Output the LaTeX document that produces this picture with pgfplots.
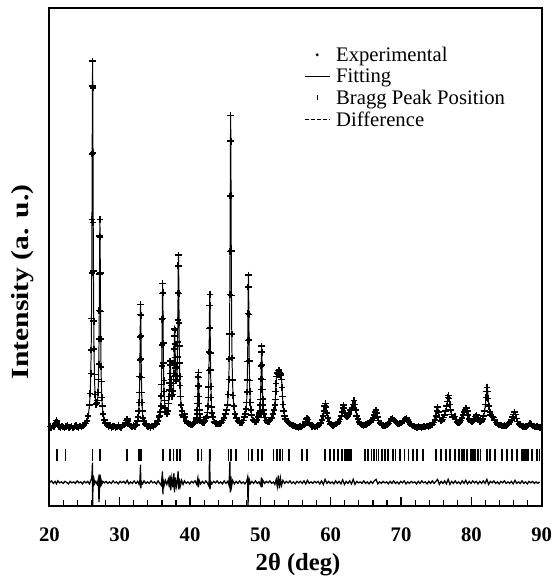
\documentclass[border=0pt]{standalone}
\usepackage{fontspec}
\setmainfont{Liberation Serif}
\usepackage{pgfplots}
\usepackage{pgfplotstable}
\pgfplotsset{compat=1.18}

% observed pattern (y in picture units, background ~80)
\pgfplotstableread[row sep=\\]{
x y\\
20.05 80.5\\ 20.25 79\\ 20.45 81\\ 20.65 80.5\\ 20.80 82.5\\ 20.90 84.5\\ 21.00 86.5\\ 21.10 85\\ 21.20 82\\ 21.35 80.5\\
21.55 79.5\\ 21.75 81\\ 21.95 80\\ 22.15 79\\ 22.35 80.5\\ 22.55 81.5\\ 22.75 79.5\\ 22.95 80\\ 23.15 81\\ 23.35 79\\
23.55 80.5\\ 23.75 81.5\\ 23.95 80\\ 24.15 79.5\\ 24.35 81\\ 24.55 80\\ 24.75 81.5\\ 24.95 82\\ 25.15 83.5\\ 25.35 86\\ 25.52 91\\
25.69 102\\ 25.80 114\\ 25.88 134\\ 25.94 158\\ 25.98 190\\ 26.02 236\\ 26.05 290\\ 26.08 356\\ 26.11 425\\ 26.14 450\\
26.17 423\\ 26.20 357\\ 26.23 287\\ 26.26 238\\ 26.30 187\\ 26.34 159\\ 26.40 133\\ 26.48 113\\ 26.59 103\\ 26.66 104\\
26.73 105\\ 26.84 107\\ 26.92 115\\ 26.98 128\\ 27.02 144\\ 27.06 169\\ 27.09 198\\ 27.12 235\\ 27.15 273\\ 27.18 290\\
27.21 272\\ 27.24 236\\ 27.27 197\\ 27.30 169\\ 27.34 141\\ 27.38 126\\ 27.44 110\\ 27.52 101\\ 27.63 93\\ 27.80 87\\
28.00 84\\ 28.20 82\\ 28.40 80.5\\ 28.60 81.5\\ 28.80 79.5\\ 29.00 80.5\\ 29.20 81\\ 29.40 79.5\\ 29.60 80\\ 29.80 81.5\\
30.00 80\\ 30.20 79.5\\ 30.40 81\\ 30.60 82\\ 30.80 84\\ 30.95 86.5\\ 31.07 88\\ 31.20 86\\ 31.35 83\\ 31.55 81\\
31.75 80\\ 31.95 81.5\\ 32.15 80.5\\ 32.35 82\\ 32.51 86\\ 32.62 90\\ 32.70 96\\ 32.76 105\\ 32.80 115\\ 32.84 131\\
32.87 148\\ 32.90 171\\ 32.93 194\\ 32.96 204\\ 32.99 193\\ 33.02 172\\ 33.05 149\\ 33.08 130\\ 33.12 115\\ 33.16 105\\
33.22 96.5\\ 33.30 89\\ 33.41 86\\ 33.60 83\\ 33.80 81.5\\ 34.00 80.5\\ 34.20 81\\ 34.40 79.5\\ 34.60 81\\ 34.80 80.5\\
35.00 82\\ 35.20 83\\ 35.40 86\\ 35.55 89.5\\ 35.65 91\\ 35.76 95\\ 35.84 101\\ 35.90 111.5\\ 35.94 123\\ 35.98 142\\
36.01 163\\ 36.04 189\\ 36.07 215\\ 36.10 225\\ 36.13 216\\ 36.16 190\\ 36.19 165\\ 36.22 145\\ 36.26 127\\ 36.30 116\\
36.36 107\\ 36.44 99\\ 36.55 95\\ 36.70 93\\ 36.85 96\\ 36.95 104\\ 37.02 111\\ 37.06 117.5\\ 37.09 124.5\\ 37.12 134\\
37.15 143\\ 37.18 147\\ 37.21 143\\ 37.24 134\\ 37.27 128\\ 37.30 122\\ 37.34 116\\ 37.38 112.5\\ 37.44 111\\ 37.52 113\\
37.58 116.5\\ 37.64 124\\ 37.68 134\\ 37.71 145\\ 37.74 159\\ 37.77 172\\ 37.80 179\\ 37.83 178\\ 37.86 164\\ 37.89 150.5\\
37.92 140\\ 37.96 131.5\\ 38.00 127.5\\ 38.06 126.5\\ 38.12 131\\ 38.17 141\\ 38.20 151\\ 38.23 166\\ 38.26 188\\ 38.29 215.5\\
38.32 243.5\\ 38.35 254\\ 38.38 243\\ 38.41 215\\ 38.44 185\\ 38.47 162\\ 38.50 145\\ 38.54 131\\ 38.58 122\\ 38.64 111\\
38.72 102.5\\ 38.82 96.5\\ 38.95 92\\ 39.10 90\\ 39.20 93\\ 39.30 90\\ 39.45 86\\ 39.65 84\\ 39.85 83\\ 40.05 82.5\\
40.25 82\\ 40.45 83\\ 40.60 84\\ 40.72 85\\ 40.83 87\\ 40.91 89\\ 40.97 93\\ 41.01 97\\ 41.05 104\\ 41.08 111\\
41.11 121\\ 41.14 130.5\\ 41.17 135\\ 41.20 130\\ 41.23 121.5\\ 41.26 111\\ 41.29 104\\ 41.33 97\\ 41.37 93\\ 41.43 89.5\\
41.51 87\\ 41.62 85\\ 41.80 84\\ 42.00 84.5\\ 42.15 86\\ 42.28 88.5\\ 42.35 90\\ 42.46 94.5\\ 42.54 101\\ 42.60 110\\
42.64 120.5\\ 42.68 137\\ 42.71 156\\ 42.74 179.5\\ 42.77 203\\ 42.80 214\\ 42.83 203\\ 42.86 180\\ 42.89 155\\ 42.92 137.5\\
42.96 121\\ 43.00 110\\ 43.06 100.5\\ 43.14 94\\ 43.25 90\\ 43.45 85\\ 43.65 83.5\\ 43.85 83\\ 44.05 83\\ 44.25 83.5\\
44.45 84.5\\ 44.65 86.5\\ 44.85 89\\ 45.05 93\\ 45.20 97\\ 45.32 102.5\\ 45.43 113\\ 45.51 128\\ 45.57 149\\ 45.61 174\\
45.65 214\\ 45.68 257.5\\ 45.71 313.5\\ 45.74 369.5\\ 45.77 395\\ 45.80 369\\ 45.83 314\\ 45.86 258\\ 45.89 213\\ 45.93 174\\
45.97 150\\ 46.03 127.5\\ 46.11 112\\ 46.22 101\\ 46.40 93\\ 46.60 89\\ 46.80 86\\ 47.00 84.5\\ 47.20 84\\ 47.40 84.5\\
47.60 86.5\\ 47.75 90\\ 47.85 93\\ 47.96 98\\ 48.04 105\\ 48.10 115.5\\ 48.14 127.5\\ 48.18 146.5\\ 48.21 167.5\\ 48.24 195\\
48.27 221.5\\ 48.30 234\\ 48.33 221.5\\ 48.36 194\\ 48.39 168\\ 48.42 147\\ 48.46 127\\ 48.50 116\\ 48.56 105\\ 48.64 97.5\\
48.75 92\\ 48.95 87\\ 49.15 85.5\\ 49.35 85\\ 49.55 87\\ 49.70 90\\ 49.78 92\\ 49.86 94\\ 49.92 96.5\\ 49.98 102\\
50.02 108\\ 50.06 118\\ 50.09 128.5\\ 50.12 142\\ 50.15 156\\ 50.18 162\\ 50.21 155.5\\ 50.24 142.5\\ 50.27 128\\ 50.30 118\\
50.34 108.5\\ 50.38 102\\ 50.44 97\\ 50.52 93\\ 50.63 89.5\\ 50.80 86.5\\ 51.00 85\\ 51.20 85.5\\ 51.40 87\\ 51.60 89\\
51.80 93\\ 51.95 97\\ 52.05 102\\ 52.12 108\\ 52.18 116\\ 52.24 124\\ 52.30 131\\ 52.36 135\\ 52.42 134\\ 52.48 133\\
52.54 135\\ 52.60 137\\ 52.66 137.5\\ 52.72 135\\ 52.78 133\\ 52.84 132\\ 52.90 134\\ 52.96 133\\ 53.02 128\\ 53.08 120\\
53.14 111\\ 53.22 103\\ 53.32 96\\ 53.45 91\\ 53.60 88\\ 53.80 86\\ 54.00 84.5\\ 54.20 83\\ 54.40 82\\ 54.60 81.5\\
54.80 81\\ 55.00 80.5\\ 55.20 80\\ 55.40 79.5\\ 55.60 80.5\\ 55.80 80\\ 56.00 81\\ 56.20 82\\ 56.40 85\\ 56.55 88\\
56.66 89\\ 56.78 87.5\\ 56.95 84\\ 57.15 82\\ 57.35 80.5\\ 57.55 81\\ 57.75 80\\ 57.95 81\\ 58.15 80.5\\ 58.35 82\\
58.55 84\\ 58.75 87\\ 58.90 91\\ 59.02 96\\ 59.12 101\\ 59.24 104\\ 59.34 100\\ 59.45 94\\ 59.60 89\\ 59.78 85.5\\
59.95 83\\ 60.15 82\\ 60.35 81.5\\ 60.55 82\\ 60.75 83\\ 60.95 84\\ 61.15 85.5\\ 61.35 87.5\\ 61.52 91\\ 61.64 95\\
61.74 99\\ 61.83 102\\ 61.92 99\\ 62.02 94\\ 62.15 91\\ 62.30 90\\ 62.45 91\\ 62.60 93\\ 62.75 97\\ 62.90 97\\
63.05 99\\ 63.18 103\\ 63.32 107\\ 63.44 103\\ 63.56 97\\ 63.70 91\\ 63.85 88\\ 64.05 85\\ 64.25 83\\ 64.45 82\\
64.65 81.5\\ 64.85 82\\ 65.05 82.5\\ 65.25 83.5\\ 65.45 84\\ 65.65 85\\ 65.85 87\\ 66.05 89\\ 66.20 92\\ 66.32 95\\
66.42 97\\ 66.52 94\\ 66.65 90\\ 66.80 86.5\\ 67.00 84\\ 67.20 82.5\\ 67.40 81.5\\ 67.60 81\\ 67.80 81.5\\ 68.00 82\\
68.20 83.5\\ 68.40 85.5\\ 68.60 88\\ 68.80 88.5\\ 69.00 87\\ 69.20 85.5\\ 69.40 84\\ 69.60 83\\ 69.80 83.5\\ 70.00 84\\
70.20 85.5\\ 70.40 86.5\\ 70.60 88\\ 70.75 89\\ 70.90 87\\ 71.10 85\\ 71.30 83\\ 71.50 82\\ 71.70 81\\ 71.90 80.5\\
72.10 80\\ 72.30 79.5\\ 72.50 80.5\\ 72.70 80\\ 72.90 79.5\\ 73.10 80\\ 73.30 80.5\\ 73.50 80\\ 73.70 81\\ 73.90 80.5\\
74.10 81.5\\ 74.30 82\\ 74.50 82.5\\ 74.70 84.5\\ 74.85 87\\ 74.98 91\\ 75.10 96\\ 75.21 100\\ 75.32 95\\ 75.45 89.5\\
75.60 86.5\\ 75.75 86\\ 75.90 87.5\\ 76.05 89.5\\ 76.20 92\\ 76.35 96\\ 76.48 101\\ 76.58 106\\ 76.68 110\\ 76.76 112\\
76.84 109\\ 76.94 103\\ 77.05 97\\ 77.20 92.5\\ 77.35 90\\ 77.50 90\\ 77.65 90.5\\ 77.80 87.5\\ 77.95 85\\ 78.10 84\\
78.25 84\\ 78.40 85\\ 78.55 86.5\\ 78.70 89\\ 78.85 92\\ 78.98 95\\ 79.10 97\\ 79.22 99\\ 79.30 99\\ 79.42 96\\
79.55 92\\ 79.70 88\\ 79.85 86\\ 80.00 85\\ 80.15 85.5\\ 80.30 86.5\\ 80.45 88\\ 80.60 90.5\\ 80.75 92\\ 80.88 89.5\\
81.00 87\\ 81.15 85.5\\ 81.30 85\\ 81.45 86\\ 81.60 88\\ 81.75 91\\ 81.88 96\\ 82.00 103\\ 82.10 110\\ 82.18 116\\
82.25 120\\ 82.32 116\\ 82.40 109\\ 82.50 101\\ 82.62 95\\ 82.75 92\\ 82.90 90.5\\ 83.05 90\\ 83.15 89.5\\ 83.30 87\\
83.50 84.5\\ 83.70 83\\ 83.90 82\\ 84.10 82\\ 84.30 81.5\\ 84.50 81\\ 84.70 81.5\\ 84.90 81\\ 85.10 82\\ 85.30 83\\
85.50 85\\ 85.70 87\\ 85.88 90\\ 86.00 92.5\\ 86.13 95\\ 86.25 92.5\\ 86.40 88.5\\ 86.55 85.5\\ 86.75 83\\ 86.95 82\\
87.15 81\\ 87.35 80.5\\ 87.55 80\\ 87.75 80.5\\ 87.95 81\\ 88.15 82\\ 88.35 83.5\\ 88.55 82.5\\ 88.75 81\\ 88.95 80.5\\
89.15 80\\ 89.35 80.5\\ 89.55 80\\ 89.75 79.5\\
}\obs

% difference curve (offset baseline ~24)
\pgfplotstableread[row sep=\\]{
x y\\
20.05 24\\ 20.3 25.5\\ 20.55 23\\ 20.8 25\\ 21.0 22.5\\ 21.2 25.5\\ 21.45 23.5\\ 21.7 24.5\\ 21.95 23\\ 22.2 25\\
22.45 24\\ 22.7 22.5\\ 22.95 25\\ 23.2 23.5\\ 23.45 24.5\\ 23.7 23\\ 23.95 25.5\\ 24.2 23.5\\ 24.45 24.5\\ 24.7 22.5\\
24.95 25\\ 25.2 23.5\\ 25.45 25\\ 25.7 22.5\\ 25.9 26.5\\ 26.02 28\\ 26.08 36\\ 26.12 44\\ 26.14 0\\ 26.17 10\\
26.2 30\\ 26.26 20\\ 26.34 27\\ 26.45 23\\ 26.6 25\\ 26.8 22\\ 26.95 27\\ 27.05 4\\ 27.12 18\\ 27.18 32\\
27.24 19\\ 27.32 27\\ 27.45 22.5\\ 27.6 25\\ 27.8 23.5\\ 28.05 25\\ 28.3 23\\ 28.55 24.5\\ 28.8 23\\ 29.05 25.5\\
29.3 23.5\\ 29.55 24.5\\ 29.8 22.5\\ 30.05 25\\ 30.3 23.5\\ 30.55 25\\ 30.8 23\\ 31.05 26\\ 31.3 22.5\\ 31.55 24.5\\
31.8 23\\ 32.05 25.5\\ 32.3 23\\ 32.55 25\\ 32.75 22\\ 32.88 27\\ 32.95 42\\ 33.0 18\\ 33.08 25\\ 33.25 22.5\\
33.45 25.5\\ 33.7 23\\ 33.95 24.5\\ 34.2 23\\ 34.45 25.5\\ 34.7 23.5\\ 34.95 24.5\\ 35.2 22.5\\ 35.45 25.5\\ 35.7 23\\
35.9 21\\ 36.02 30\\ 36.08 35\\ 36.14 12\\ 36.2 27\\ 36.32 21\\ 36.5 26\\ 36.7 22\\ 36.9 27\\ 37.05 19\\
37.15 31\\ 37.25 16\\ 37.4 28\\ 37.55 19\\ 37.7 33\\ 37.78 14\\ 37.9 29\\ 38.05 20\\ 38.2 26\\ 38.3 35\\
38.38 17\\ 38.48 28\\ 38.6 20\\ 38.8 26\\ 39.0 22\\ 39.2 25.5\\ 39.45 23\\ 39.7 24.5\\ 39.95 22.5\\ 40.2 25\\
40.45 23.5\\ 40.7 25.5\\ 40.95 22\\ 41.1 28\\ 41.18 19\\ 41.3 26\\ 41.5 22.5\\ 41.75 25\\ 42.0 23\\ 42.25 25.5\\
42.5 23\\ 42.7 20\\ 42.78 57\\ 42.84 17\\ 42.92 25\\ 43.1 22.5\\ 43.35 25\\ 43.6 23.5\\ 43.85 25.5\\ 44.1 23\\
44.35 24.5\\ 44.6 22.5\\ 44.85 25.5\\ 45.1 23\\ 45.35 25\\ 45.55 21\\ 45.66 45\\ 45.72 14\\ 45.8 30\\ 45.9 20\\
46.05 26\\ 46.3 22.5\\ 46.55 25\\ 46.8 23\\ 47.05 25.5\\ 47.3 23\\ 47.55 24.5\\ 47.8 22.5\\ 48.05 25\\ 48.18 29\\
48.24 0\\ 48.3 20\\ 48.4 27\\ 48.55 22.5\\ 48.8 25\\ 49.05 23\\ 49.3 25.5\\ 49.55 23\\ 49.8 24.5\\ 50.05 21\\
50.15 29\\ 50.22 19\\ 50.35 26\\ 50.6 23\\ 50.85 25\\ 51.1 23.5\\ 51.35 25.5\\ 51.6 23\\ 51.85 24.5\\ 52.05 22\\
52.25 27\\ 52.4 20\\ 52.55 31\\ 52.7 18\\ 52.85 28\\ 53.0 21\\ 53.2 26\\ 53.45 23\\ 53.7 25\\ 53.95 23.5\\
54.2 25.5\\ 54.45 23\\ 54.7 24.5\\ 54.95 22.5\\ 55.2 25\\ 55.45 23.5\\ 55.7 25\\ 55.95 23\\ 56.2 25.5\\ 56.45 22.5\\
56.7 26\\ 56.95 23\\ 57.2 24.5\\ 57.45 23\\ 57.7 25\\ 57.95 23.5\\ 58.2 25\\ 58.45 22.5\\ 58.7 25.5\\ 58.95 22\\
59.2 27\\ 59.45 23\\ 59.7 25\\ 59.95 23\\ 60.2 24.5\\ 60.45 22.5\\ 60.7 25.5\\ 60.95 23\\ 61.2 25\\ 61.45 22.5\\
61.7 26.5\\ 61.95 22\\ 62.2 25\\ 62.45 23\\ 62.7 25.5\\ 62.95 22.5\\ 63.2 27\\ 63.45 22\\ 63.7 25\\ 63.95 23.5\\
64.2 24.5\\ 64.45 23\\ 64.7 25.5\\ 64.95 23\\ 65.2 24.5\\ 65.45 22.5\\ 65.7 25\\ 65.95 23\\ 66.2 25.5\\ 66.45 27\\
66.7 22.5\\ 66.95 24.5\\ 67.2 23\\ 67.45 25\\ 67.7 23.5\\ 67.95 24.5\\ 68.2 22.5\\ 68.45 25\\ 68.7 23\\ 68.95 25.5\\
69.2 23\\ 69.45 24.5\\ 69.7 22.5\\ 69.95 25\\ 70.2 23.5\\ 70.45 25.5\\ 70.7 22.5\\ 70.95 24.5\\ 71.2 23\\ 71.45 25\\
71.7 23.5\\ 71.95 24.5\\ 72.2 22.5\\ 72.45 25\\ 72.7 23\\ 72.95 25.5\\ 73.2 23.5\\ 73.45 24.5\\ 73.7 22.5\\ 73.95 25\\
74.2 23\\ 74.45 25.5\\ 74.7 23\\ 74.95 25\\ 75.2 27\\ 75.45 22\\ 75.7 25\\ 75.95 23\\ 76.2 25.5\\ 76.45 22.5\\
76.7 27\\ 76.95 22\\ 77.2 25\\ 77.45 23\\ 77.7 25.5\\ 77.95 23\\ 78.2 24.5\\ 78.45 22.5\\ 78.7 25.5\\ 78.95 23\\
79.2 26\\ 79.45 22.5\\ 79.7 25\\ 79.95 23\\ 80.2 25.5\\ 80.45 23.5\\ 80.7 25\\ 80.95 22.5\\ 81.2 25\\ 81.45 23\\
81.7 25.5\\ 81.95 23\\ 82.2 27\\ 82.45 22\\ 82.7 25\\ 82.95 23.5\\ 83.2 25.5\\ 83.45 23\\ 83.7 24.5\\ 83.95 22.5\\
84.2 25\\ 84.45 23.5\\ 84.7 25.5\\ 84.95 23\\ 85.2 24.5\\ 85.45 23\\ 85.7 25\\ 85.95 22.5\\ 86.2 26\\ 86.45 23\\
86.7 24.5\\ 86.95 23\\ 87.2 25.5\\ 87.45 23\\ 87.7 24.5\\ 87.95 22.5\\ 88.2 25\\ 88.45 23.5\\ 88.7 25\\ 88.95 23\\
89.2 24.5\\ 89.45 23\\ 89.7 24.5\\
}\diff

\begin{document}
\begin{tikzpicture}
\begin{axis}[
  at={(0,0)}, anchor=south west,
  width=498bp, height=504bp, scale only axis,
  xmin=20, xmax=90, ymin=0, ymax=504,
  clip=false,
  xtick={20,30,...,90}, minor x tick num=4,
  ytick=\empty,
  tick align=inside, xtick pos=left,
  major tick length=9bp, minor tick length=6bp,
  tick style={line width=1.2pt, black},
  axis line style={line width=2pt},
  /pgf/number format/assume math mode=true,
  xticklabel style={font=\fontsize{21}{21}\selectfont\bfseries, yshift=-18bp},
  xlabel={2θ (deg)},
  xlabel style={font=\fontsize{25}{25}\selectfont\bfseries,
    at={(axis description cs:0.505,-0.117)}, anchor=center},
  ylabel={\scalebox{1.2}[1]{Intensity (a. u.)}},
  ylabel style={font=\fontsize{25}{25}\selectfont\bfseries,
    at={(axis description cs:-0.054,0.45)}, anchor=center},
  legend style={draw=none, fill=none, at={(axis description cs:0.517,0.926)},
    anchor=north west, font=\fontsize{21}{21}\selectfont, inner sep=0pt, row sep=2bp,
    /tikz/every odd column/.style={column sep=4bp}},
  legend cell align=left,
]
% plot frame as a closed path in axis units
\addplot[line width=2pt, forget plot] coordinates {(20,0) (90,0) (90,504) (20,504) (20,0)};
\addplot[only marks, mark=+, mark size=3.3pt, mark options={line width=1.6pt}, forget plot] table {\obs};
\addplot[line width=1pt, forget plot] table {\obs};
\addplot[line width=1.3pt, forget plot] table {\diff};
\addplot[only marks, mark=|, mark size=6bp, mark options={line width=1.8pt}, forget plot] coordinates {
  (21.07,52) (22.3,52) (26.14,52) (27.18,52) (31.07,52) (32.75,52) (33.05,52) (36.1,52)
  (37.18,52) (37.65,52) (38.11,52) (38.59,52) (41.17,52) (41.63,52) (42.82,52) (45.45,52)
  (45.86,52) (46.56,52) (48.3,52) (48.85,52) (49.7,52) (50.2,52) (51.87,52) (52.34,52)
  (52.75,52) (53.15,52) (54.05,52) (55.96,52) (56.66,52) (59.24,52) (59.94,52) (60.5,52)
  (60.99,52) (61.59,52) (62.0,52) (62.3,52) (62.6,52) (62.9,52) (64.87,52) (65.35,52)
  (65.8,52) (66.1,52) (66.5,52) (66.8,52) (67.3,52) (67.7,52) (68.17,52) (68.9,52)
  (69.2,52) (69.8,52) (70.5,52) (71.07,52) (71.69,52) (72.3,52) (73.1,52) (74.97,52)
  (75.68,52) (76.38,52) (76.99,52) (77.65,52) (78.25,52) (78.7,52) (79.0,52) (79.4,52)
  (79.9,52) (80.2,52) (80.5,52) (80.9,52) (81.3,52) (82.25,52) (82.7,52) (83.4,52)
  (84.35,52) (85.07,52) (85.77,52) (86.48,52) (87.2,52) (87.5,52) (87.8,52) (88.1,52)
  (88.6,52) (89.3,52) (89.7,52)
};
\addlegendimage{legend image code/.code={\fill (0.45cm,0cm) circle (1.3pt);}}
\addlegendimage{legend image code/.code={\draw[line width=0.9pt] (0cm,0cm) -- (0.9cm,0cm);}}
\addlegendimage{legend image code/.code={\draw[line width=0.8pt] (0.45cm,-2.5pt) -- (0.45cm,2.5pt);}}
\addlegendimage{legend image code/.code={\draw[line width=0.8pt, dash pattern=on 4pt off 2.2pt] (0cm,0cm) -- (0.9cm,0cm);}}
\legend{Experimental, Fitting, Bragg Peak Position, Difference}
\end{axis}
\path (-50bp,-67bp) rectangle (511bp,512bp);
\end{tikzpicture}
\end{document}
